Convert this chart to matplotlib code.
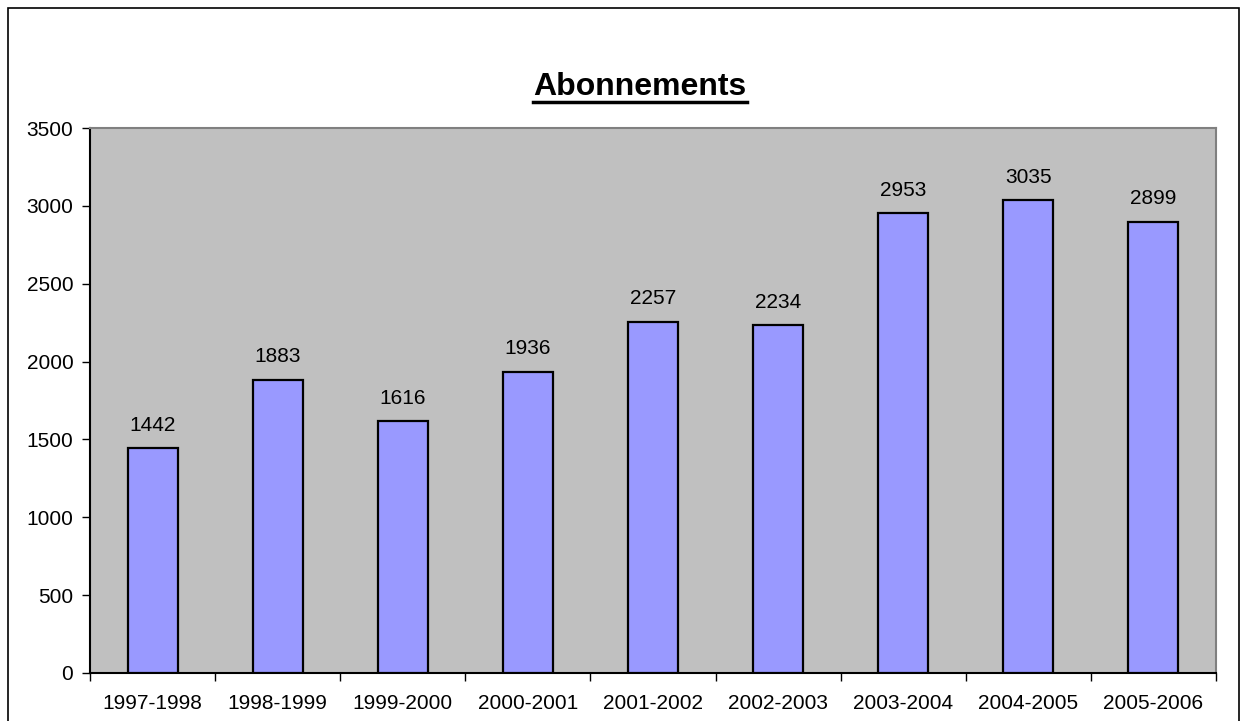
import numpy as np
import matplotlib.pyplot as plt
from matplotlib.patches import Rectangle
from matplotlib.lines import Line2D

plt.rcParams['font.family'] = ['Liberation Sans', 'DejaVu Sans']

saisons = ['1997-1998', '1998-1999', '1999-2000', '2000-2001', '2001-2002',
           '2002-2003', '2003-2004', '2004-2005', '2005-2006']
abonnements = [1442, 1883, 1616, 1936, 2257, 2234, 2953, 3035, 2899]

fig = plt.figure(figsize=(12.45, 7.21), dpi=100)
ax = fig.add_axes([90/1245, 48/721, 1126/1245, 545/721])
ax.set_facecolor('#C0C0C0')

x = np.arange(len(saisons))
ax.bar(x, abonnements, width=0.4, color='#9999FF', edgecolor='black', linewidth=1.6, zorder=3)
for xi, v in zip(x, abonnements):
    ax.annotate(str(v), (xi, v), xytext=(0, 16.5), textcoords='offset points',
                ha='center', va='center', fontsize=15)

ax.set_xlim(-0.5, len(saisons) - 0.5)
ax.set_ylim(0, 3500)
ax.set_yticks(np.arange(0, 3501, 500))
ax.set_xticks(x)
ax.set_xticklabels(saisons)
ax.set_xticks(np.arange(-0.5, len(saisons)), minor=True)
ax.tick_params(axis='x', which='major', length=0, pad=15, labelsize=15)
ax.tick_params(axis='x', which='minor', length=6, width=1, color='black')
ax.tick_params(axis='y', length=6, width=1, pad=6, labelsize=15)

ax.spines['left'].set_color('black')
ax.spines['bottom'].set_color('black')
ax.spines['top'].set_color('#808080')
ax.spines['right'].set_color('#808080')
for s in ax.spines.values():
    s.set_linewidth(1.5)

titre = fig.text(640/1245, 1 - 87/721, 'Abonnements', ha='center', va='center',
                 fontsize=23, fontweight='bold')
fig.canvas.draw()
bb = titre.get_window_extent()
uy = 1 - 102/721
fig.add_artist(Line2D([bb.x0/1245, bb.x1/1245], [uy, uy], color='black', linewidth=2.5))

# cadre du graphique
fig.add_artist(Rectangle((8/1245, -0.05), 1231/1245, 1.05 - 8/721, transform=fig.transFigure,
                         fill=False, edgecolor='black', linewidth=1.2))

fig.savefig('out.png', dpi=100)
